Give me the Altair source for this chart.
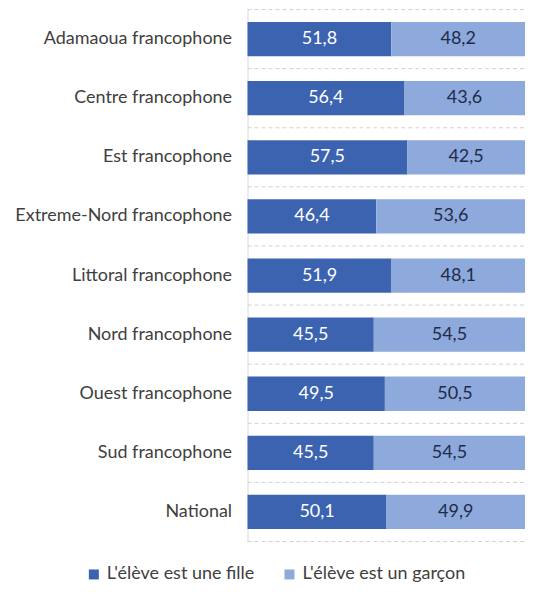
import altair as alt
import pandas as pd

regions = ["Adamaoua francophone", "Centre francophone", "Est francophone",
           "Extreme-Nord francophone", "Littoral francophone", "Nord francophone",
           "Ouest francophone", "Sud francophone", "National"]
fille = [51.8, 56.4, 57.5, 46.4, 51.9, 45.5, 49.5, 45.5, 50.1]
garcon = [48.2, 43.6, 42.5, 53.6, 48.1, 54.5, 50.5, 54.5, 49.9]
series = ["L'élève est une fille", "L'élève est un garçon"]
colors = ["#3B63AF", "#8EA9DB"]
text_colors = ["#FFFFFF", "#1F2B4A"]

FONT = "Lato"
W, H = 278, 533

rows = []
for r, f, g in zip(regions, fille, garcon):
    rows.append({"region": r, "serie": series[0], "ordre": 0, "valeur": f,
                 "label": f"{f:.1f}".replace(".", ",")})
    rows.append({"region": r, "serie": series[1], "ordre": 1, "valeur": g,
                 "label": f"{g:.1f}".replace(".", ",")})
df = pd.DataFrame(rows)

# band boundaries (between categories) for the dashed separators
grid_df = pd.DataFrame({"b": list(range(len(regions) + 1))})

yenc = alt.Y("region:N", sort=regions,
             scale=alt.Scale(paddingInner=0.42, paddingOuter=0.21),
             axis=alt.Axis(title=None, labelFont=FONT, labelFontSize=18,
                           labelColor="#404040", labelPadding=16, ticks=False,
                           domain=True, domainColor="#D9D9D9", domainWidth=1,
                           grid=False, minExtent=240, maxExtent=240,
                           labelLimit=300))

xscale = alt.Scale(domain=[0, 100], nice=False, zero=True)

grid = alt.Chart(grid_df).mark_rule(color="#D0D0D0", strokeDash=[4, 3], strokeWidth=1).encode(
    y=alt.Y("b:Q", scale=alt.Scale(domain=[0, len(regions)], nice=False, zero=False), axis=None),
    x=alt.value(0),
    x2=alt.value(W),
)

base = alt.Chart(df).transform_stack(
    stack="valeur", groupby=["region"], as_=["x0", "x1"],
    sort=[alt.SortField("ordre", order="ascending")]
).transform_calculate(mid="(datum.x0 + datum.x1) / 2").encode(y=yenc)

bars = base.mark_bar().encode(
    x=alt.X("x0:Q", scale=xscale, axis=None),
    x2="x1:Q",
    color=alt.Color("serie:N", scale=alt.Scale(domain=series, range=colors),
                    legend=alt.Legend(title=None, orient="none", direction="horizontal",
                                      legendX=-163, legendY=557,
                                      symbolType="square", symbolSize=100,
                                      symbolStrokeWidth=0, labelFont=FONT,
                                      labelFontSize=18, labelColor="#404040",
                                      labelOffset=4, columnPadding=26,
                                      labelLimit=300)),
)

texts = base.mark_text(font=FONT, fontSize=18).encode(
    x=alt.X("mid:Q", scale=xscale, axis=None),
    text="label:N",
    color=alt.Color("serie:N", scale=alt.Scale(domain=series, range=text_colors), legend=None),
)

inner = alt.layer(bars, texts).resolve_scale(color="independent")

chart = alt.layer(grid, inner).resolve_scale(
    color="independent", y="independent"
).properties(
    width=W, height=H,
    padding={"left": 0, "top": 0, "right": 0, "bottom": 0},
).configure_view(stroke=None)

chart.save("out.html", embed_options={"renderer": "svg", "actions": False})
